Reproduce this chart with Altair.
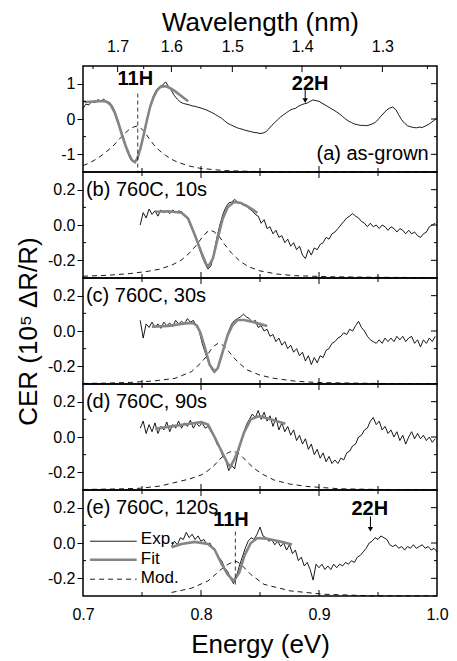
import altair as alt
import numpy as np
import pandas as pd

FONT = "Liberation Sans"
W, H = 354, 106
E_RANGE = [0.7, 1.0]
HC = 1.23984  # eV * um, converts wavelength ticks to energy positions

# ---------------- axis tick values ----------------
wl_major = [1.7, 1.6, 1.5, 1.4, 1.3]
wl_minor = [1.75, 1.65, 1.55, 1.45, 1.35, 1.25]
e_major_ticks = [0.8, 0.9]
e_minor_ticks = [0.75, 0.85, 0.95]
e_labels = [0.7, 0.8, 0.9, 1.0]

# ---------------- (a) as-grown ----------------
a_exp_start, a_exp_step = 0.700, 0.0025
a_exp = [0.30, 0.42, 0.40, 0.50, 0.46, 0.55, 0.50, 0.56, 0.49, 0.47,
         0.36, 0.18, -0.08, -0.35, -0.60, -0.92, -1.12, -1.22, -1.17, -0.98,
         -0.68, -0.30, 0.08, 0.42, 0.68, 0.84, 0.92, 0.96, 1.05, 0.92,
         0.80, 0.66, 0.56, 0.48, 0.44, 0.42, 0.40, 0.37, 0.36, 0.33,
         0.31, 0.28, 0.25, 0.21, 0.17, 0.12, 0.07, 0.02, -0.05, -0.12,
         -0.16, -0.20, -0.24, -0.27, -0.29, -0.32, -0.34, -0.36, -0.38, -0.39,
         -0.41, -0.40, -0.36, -0.28, -0.18, -0.10, -0.02, 0.06, 0.12, 0.18,
         0.24, 0.28, 0.30, 0.36, 0.40, 0.43, 0.45, 0.50, 0.54, 0.52,
         0.50, 0.45, 0.40, 0.35, 0.30, 0.25, 0.20, 0.14, 0.07, 0.00,
         -0.06, -0.10, -0.14, -0.16, -0.18, -0.18, -0.19, -0.17, -0.14, -0.10,
         -0.02, 0.08, 0.17, 0.26, 0.31, 0.34, 0.27, 0.12, -0.02, -0.12,
         -0.19, -0.22, -0.24, -0.25, -0.23, -0.24, -0.20, -0.16, -0.10, -0.04,
         0.03]
a_fit_e = [0.7011, 0.7060, 0.7110, 0.7160, 0.7200, 0.7235, 0.7270, 0.7300, 0.7330,
           0.7360, 0.7390, 0.7416, 0.7440, 0.7460, 0.7486, 0.7514, 0.7542, 0.7570,
           0.7598, 0.7626, 0.7654, 0.7682, 0.7710, 0.7751, 0.7790, 0.7830, 0.7891]
a_fit = [0.48, 0.49, 0.50, 0.51, 0.49, 0.40, 0.17, -0.12, -0.45,
         -0.75, -1.00, -1.17, -1.22, -1.12, -0.84, -0.45, -0.03, 0.36,
         0.62, 0.80, 0.90, 0.93, 0.92, 0.85, 0.76, 0.66, 0.50]
a_mod_e = [0.700, 0.705, 0.710, 0.715, 0.720, 0.725, 0.730, 0.735, 0.740, 0.7435,
           0.746, 0.749, 0.752, 0.756, 0.760, 0.765, 0.770, 0.775, 0.780, 0.790,
           0.800, 0.820, 0.850, 0.900, 1.000]
a_mod = [-1.32, -1.25, -1.16, -1.05, -0.92, -0.78, -0.60, -0.42, -0.27, -0.22,
         -0.20, -0.26, -0.36, -0.55, -0.73, -0.90, -1.03, -1.14, -1.22, -1.33,
         -1.40, -1.46, -1.49, -1.50, -1.50]

# ---------------- (b) 760C, 10s ----------------
b_exp_start, b_exp_step = 0.7485, 0.0025
b_exp = [0.00, 0.07, 0.04, 0.09, 0.06, 0.08, 0.05, 0.085, 0.07, 0.08,
         0.065, 0.085, 0.07, 0.08, 0.075, 0.06, 0.04, 0.00, -0.04, -0.08,
         -0.13, -0.18, -0.22, -0.25, -0.23, -0.16, -0.07, 0.00, 0.06, 0.10,
         0.125, 0.13, 0.145, 0.13, 0.125, 0.11, 0.115, 0.09, 0.08, 0.06,
         0.05, 0.01, 0.03, -0.02, -0.01, -0.05, -0.03, -0.07, -0.06, -0.10,
         -0.08, -0.12, -0.10, -0.14, -0.12, -0.17, -0.19, -0.14, -0.17, -0.13,
         -0.14, -0.11, -0.10, -0.07, -0.08, -0.05, -0.04, -0.02, 0.00, 0.02,
         0.04, 0.05, 0.065, 0.05, 0.04, 0.02, 0.01, -0.01, 0.01, -0.01,
         0.00, -0.02, 0.00, -0.01, -0.03, -0.01, -0.02, -0.04, -0.02, -0.03,
         -0.05, -0.03, -0.05, -0.04, -0.06, -0.07, -0.05, -0.04, -0.01, 0.00,
         0.01]
b_fit_e = [0.7612, 0.7723, 0.7835, 0.7891, 0.7947, 0.8003, 0.8045, 0.8064,
           0.8101, 0.8142, 0.8184, 0.8226, 0.8282, 0.8338, 0.8408, 0.8478]
b_fit = [0.075, 0.078, 0.069, 0.036, -0.055, -0.155, -0.224, -0.233,
         -0.19, -0.073, 0.036, 0.10, 0.131, 0.125, 0.10, 0.069]
b_mod_e = [0.700, 0.720, 0.740, 0.755, 0.765, 0.775, 0.783, 0.790, 0.796, 0.801,
           0.805, 0.808, 0.811, 0.815, 0.820, 0.826, 0.833, 0.840, 0.850, 0.865,
           0.880, 0.910, 0.950, 1.000]
b_mod = [-0.290, -0.285, -0.275, -0.262, -0.250, -0.228, -0.200, -0.160, -0.115, -0.070,
         -0.040, -0.030, -0.038, -0.060, -0.110, -0.160, -0.205, -0.235, -0.260, -0.278,
         -0.287, -0.293, -0.296, -0.298]

# ---------------- (c) 760C, 30s ----------------
c_exp_start, c_exp_step = 0.7485, 0.0025
c_exp = [0.06, -0.04, 0.04, 0.02, 0.05, 0.02, 0.04, 0.015, 0.05, 0.03,
         0.045, 0.025, 0.06, 0.04, 0.055, 0.04, 0.07, 0.05, 0.06, 0.03,
         0.00, -0.07, -0.12, -0.17, -0.21, -0.235, -0.22, -0.18, -0.12, -0.06,
         0.00, 0.04, 0.06, 0.07, 0.08, 0.095, 0.08, 0.07, 0.05, 0.06,
         0.02, 0.03, 0.00, 0.01, -0.03, -0.02, -0.06, -0.04, -0.08, -0.06,
         -0.10, -0.08, -0.12, -0.10, -0.14, -0.12, -0.17, -0.14, -0.19, -0.15,
         -0.18, -0.14, -0.15, -0.11, -0.10, -0.07, -0.06, -0.04, -0.03, -0.01,
         -0.02, 0.01, 0.00, 0.03, 0.055, 0.02, 0.00, -0.03, -0.05, -0.06,
         -0.07, -0.05, -0.07, -0.04, -0.06, -0.04, -0.06, -0.03, -0.05, -0.03,
         -0.06, -0.04, -0.03, -0.07, -0.05, -0.09, -0.05, -0.07, -0.04, -0.06,
         -0.03]
c_fit_e = [0.7584, 0.7723, 0.7863, 0.7933, 0.7965, 0.7995, 0.8031, 0.8073,
           0.8115, 0.8142, 0.8184, 0.8226, 0.8268, 0.8310, 0.8366, 0.8450, 0.8561]
c_fit = [0.025, 0.028, 0.043, 0.045, 0.030, -0.010, -0.090, -0.19,
         -0.23, -0.21, -0.117, -0.023, 0.034, 0.062, 0.062, 0.049, 0.028]
c_mod_e = [0.700, 0.720, 0.740, 0.760, 0.778, 0.792, 0.800, 0.805, 0.809, 0.812,
           0.8145, 0.817, 0.820, 0.824, 0.827, 0.832, 0.839, 0.850, 0.862, 0.880,
           0.900, 0.950, 1.000]
c_mod = [-0.297, -0.295, -0.291, -0.283, -0.268, -0.230, -0.180, -0.140, -0.100, -0.080,
         -0.070, -0.073, -0.090, -0.120, -0.145, -0.180, -0.220, -0.250, -0.268, -0.284,
         -0.292, -0.297, -0.298]

# ---------------- (d) 760C, 90s ----------------
d_exp_start, d_exp_step = 0.7485, 0.0025
d_exp = [0.05, 0.09, 0.02, 0.07, 0.03, 0.08, 0.02, 0.06, 0.04, 0.085,
         0.03, 0.07, 0.05, 0.09, 0.05, 0.08, 0.06, 0.095, 0.05, 0.08,
         0.06, 0.08, 0.05, 0.06, 0.03, 0.01, -0.04, -0.06, -0.11, -0.13,
         -0.19, -0.16, -0.18, -0.10, -0.04, 0.02, 0.07, 0.10, 0.13, 0.11,
         0.15, 0.10, 0.14, 0.09, 0.12, 0.06, 0.11, 0.04, 0.08, 0.03,
         0.06, 0.01, 0.04, -0.02, 0.01, -0.04, -0.01, -0.07, -0.04, -0.10,
         -0.07, -0.12, -0.09, -0.14, -0.11, -0.15, -0.13, -0.15, -0.12, -0.13,
         -0.09, -0.08, -0.05, -0.04, 0.00, 0.01, 0.04, 0.05, 0.09, 0.11,
         0.07, 0.09, 0.04, 0.06, 0.02, 0.04, 0.00, 0.03, -0.02, 0.01,
         -0.04, 0.00, 0.03, -0.01, 0.02, -0.01, 0.01, -0.02, 0.00, -0.03,
         -0.01]
d_fit_e = [0.7612, 0.7750, 0.7900, 0.8003, 0.8060, 0.8115, 0.8170, 0.8226,
           0.8250, 0.8280, 0.8310, 0.8366, 0.8422, 0.8492, 0.8589, 0.8715]
d_fit = [0.047, 0.060, 0.075, 0.084, 0.070, 0.0, -0.075, -0.15,
         -0.168, -0.13, -0.084, 0.028, 0.10, 0.118, 0.10, 0.075]
d_mod_e = [0.700, 0.730, 0.7486, 0.765, 0.7765, 0.790, 0.8003, 0.806, 0.8115, 0.816,
           0.8198, 0.8235, 0.8268, 0.830, 0.8338, 0.839, 0.845, 0.852, 0.8617, 0.875,
           0.8897, 0.9176, 0.950, 1.000]
d_mod = [-0.297, -0.294, -0.290, -0.278, -0.260, -0.238, -0.215, -0.190, -0.159, -0.125,
         -0.103, -0.087, -0.080, -0.087, -0.103, -0.140, -0.178, -0.210, -0.243, -0.266,
         -0.280, -0.293, -0.297, -0.298]

# ---------------- (e) 760C, 120s ----------------
e_exp_start, e_exp_step = 0.775, 0.0025
e_exp = [-0.02, 0.01, -0.01, 0.03, 0.02, 0.06, 0.03, 0.05, 0.02, 0.04,
         0.01, 0.02, -0.01, 0.00, -0.03, -0.05, -0.08, -0.10, -0.14, -0.16,
         -0.20, -0.23, -0.19, -0.13, -0.08, -0.03, 0.01, 0.03, 0.02, 0.05,
         0.09, 0.04, 0.03, 0.01, 0.02, -0.01, 0.01, -0.02, 0.00, -0.04,
         -0.01, -0.06, -0.04, -0.10, -0.08, -0.13, -0.11, -0.15, -0.21, -0.12,
         -0.14, -0.12, -0.15, -0.13, -0.15, -0.12, -0.14, -0.12, -0.13, -0.11,
         -0.12, -0.10, -0.11, -0.08, -0.07, -0.05, -0.03, 0.00, 0.01, 0.03,
         0.02, 0.04, 0.03, 0.02, -0.01, -0.02, -0.01, -0.03, -0.02, -0.04,
         -0.02, -0.03, -0.01, -0.03, -0.02, -0.01, -0.03, -0.02, -0.04, -0.03,
         -0.05]
e_fit_e = [0.7751, 0.7835, 0.7947, 0.8059, 0.8115, 0.8170, 0.8226, 0.8277,
           0.8324, 0.8366, 0.8422, 0.8478, 0.8561, 0.8673, 0.8771]
e_fit = [-0.024, -0.006, 0.006, -0.006, -0.037, -0.112, -0.178, -0.215,
         -0.168, -0.075, 0.0, 0.028, 0.024, 0.009, -0.009]
e_mod_e = [0.7751, 0.7919, 0.8059, 0.8170, 0.8210, 0.8254, 0.8288, 0.8310, 0.8338,
           0.8422, 0.8534, 0.8757, 0.9036, 0.9455, 1.0]
e_mod = [-0.280, -0.256, -0.215, -0.150, -0.128, -0.112, -0.103, -0.108, -0.121,
         -0.178, -0.234, -0.271, -0.290, -0.299, -0.299]

# ---------------- annotations ----------------
panel_labels = ["(a) as-grown", "(b) 760C, 10s", "(c) 760C, 30s", "(d) 760C, 90s", "(e) 760C, 120s"]
ytitle = "CER (10\u2075 \u0394R/R)"


def X(axis):
    return alt.X("E:Q", scale=alt.Scale(domain=E_RANGE, nice=False, zero=False), axis=axis)


def Y(dom, axis):
    return alt.Y("v:Q", scale=alt.Scale(domain=dom, nice=False, zero=False), axis=axis)


def yaxis(vals, fmt, title):
    expr = "(datum.value < -1e-9 ? '-' : '') + format(abs(datum.value), '%s')" % fmt
    kw = dict(values=vals, labelExpr=expr, tickSize=6, tickColor="black", tickWidth=1,
              domain=False, grid=False, labelFont=FONT, labelFontSize=16,
              labelColor="black", labelPadding=2)
    if title:
        kw.update(title=title, titleFont=FONT, titleFontSize=26, titleFontWeight="normal",
                  titleColor="black", titlePadding=6)
    else:
        kw["title"] = None
    return alt.Axis(**kw)


def line_layer(E, v, xe, ye, **kw):
    return alt.Chart(pd.DataFrame({"E": E, "v": v})).mark_line(**kw).encode(x=xe, y=ye)


def vrules(vals, y0, y1, xe):
    return alt.Chart(pd.DataFrame({"E": vals})).mark_rule(color="black", strokeWidth=1).encode(
        x=xe, y=alt.value(y0), y2=alt.value(y1))


def hrules(vals, x0, x1, ye):
    return alt.Chart(pd.DataFrame({"v": vals})).mark_rule(color="black", strokeWidth=1).encode(
        y=ye, x=alt.value(x0), x2=alt.value(x1))


def texts(df, xe, ye, **kw):
    return alt.Chart(df).mark_text(font=FONT, color="black", **kw).encode(x=xe, y=ye, text="t:N")


def panel(exp_start, exp_step, exp, fit_e, fit, mod_e, mod, ydom, ymaj, ymin, fmt,
          xaxis, title, label, label_pos, label_align, top="energy", extras=()):
    xe = X(xaxis)
    ye = Y(ydom, yaxis(ymaj, fmt, title))
    exp_e = exp_start + exp_step * np.arange(len(exp))
    layers = [
        line_layer(mod_e, mod, xe, ye, color="black", strokeWidth=0.9, strokeDash=[5, 4]),
        line_layer(exp_e, exp, xe, ye, color="black", strokeWidth=0.9),
        line_layer(fit_e, fit, xe, ye, color="#858585", strokeWidth=2.6),
        # x ticks, inward
        vrules(e_major_ticks, H - 6, H, xe),
        vrules(e_minor_ticks, H - 4, H, xe),
        # y ticks
        hrules(ymin, 0, 3, ye),
        hrules(ymaj, W - 6, W, ye),
        hrules(ymin, W - 3, W, ye),
    ]
    if top == "energy":
        layers += [vrules(e_major_ticks, 0, 6, xe), vrules(e_minor_ticks, 0, 4, xe)]
    else:
        layers += [vrules([HC / w for w in wl_major], 0, 6, xe),
                   vrules([HC / w for w in wl_minor], 0, 3, xe)]
    layers.append(texts(pd.DataFrame({"E": [label_pos[0]], "v": [label_pos[1]], "t": [label]}),
                        xe, ye, fontSize=20, align=label_align, baseline="middle"))
    for f in extras:
        layers += f(xe, ye)
    return alt.layer(*layers).properties(width=W, height=H)


def marker(Epos, v_top, v_bot, lab_e, lab_v, arrow_e, arrow_v, arrow_head, h_lab_e, h_lab_v):
    def f(xe, ye):
        out = []
        out.append(alt.Chart(pd.DataFrame({"E": [Epos], "v": [v_top], "v2": [v_bot]}))
                   .mark_rule(color="black", strokeWidth=0.8, strokeDash=[4, 3])
                   .encode(x=xe, y=ye, y2="v2:Q"))
        out.append(texts(pd.DataFrame({"E": [lab_e, h_lab_e], "v": [lab_v, h_lab_v], "t": ["11H", "22H"]}),
                         xe, ye, fontSize=20, fontWeight="bold", align="center", baseline="middle"))
        out.append(alt.Chart(pd.DataFrame({"E": [arrow_e], "v": [arrow_v[0]], "v2": [arrow_v[1]]}))
                   .mark_rule(color="black", strokeWidth=1).encode(x=xe, y=ye, y2="v2:Q"))
        out.append(alt.Chart(pd.DataFrame({"E": [arrow_e], "v": [arrow_head]}))
                   .mark_point(shape="triangle-down", filled=True, color="black", opacity=1, size=28)
                   .encode(x=xe, y=ye))
        return out
    return f


def legend(xe, ye):
    leg_e = [0.7060, 0.7455]
    out = [
        line_layer(leg_e, [0.01, 0.01], xe, ye, color="black", strokeWidth=0.9),
        line_layer(leg_e, [-0.095, -0.095], xe, ye, color="#858585", strokeWidth=2.6),
        line_layer(leg_e, [-0.205, -0.205], xe, ye, color="black", strokeWidth=0.9, strokeDash=[5, 4]),
        texts(pd.DataFrame({"E": [0.749] * 3, "v": [0.02, -0.09, -0.20], "t": ["Exp.", "Fit", "Mod."]}),
              xe, ye, fontSize=17, align="left", baseline="middle"),
    ]
    return out


top_axis = alt.Axis(orient="top", values=[HC / w for w in wl_major],
                    labelExpr="format(%f / datum.value, '.1f')" % HC,
                    ticks=False, tickSize=0, domain=False, grid=False, labelFlush=False,
                    labelFont=FONT, labelFontSize=16, labelColor="black", labelPadding=12,
                    title="Wavelength (nm)", titleFont=FONT, titleFontSize=26,
                    titleFontWeight="normal", titleColor="black", titlePadding=3)
bottom_axis = alt.Axis(orient="bottom", values=e_labels, format=".1f",
                       ticks=False, tickSize=0, domain=False, grid=False, labelFlush=False,
                       labelFont=FONT, labelFontSize=16, labelColor="black", labelPadding=10,
                       title="Energy (eV)", titleFont=FONT, titleFontSize=26,
                       titleFontWeight="normal", titleColor="black", titlePadding=9)

pa = panel(a_exp_start, a_exp_step, a_exp, a_fit_e, a_fit, a_mod_e, a_mod,
           [-1.5, 1.5], [-1, 0, 1], [-0.5, 0.5], "d", top_axis, None,
           panel_labels[0], (0.993, -1.0), "right", top="wavelength",
           extras=[marker(0.7464, 0.72, -1.5, 0.7444, 1.14, 0.8883, (0.82, 0.56), 0.52, 0.8925, 0.98)])
pb = panel(b_exp_start, b_exp_step, b_exp, b_fit_e, b_fit, b_mod_e, b_mod,
           [-0.3, 0.3], [-0.2, 0.0, 0.2], [-0.1, 0.1], ".1f", None, None,
           panel_labels[1], (0.7025, 0.2), "left")
pc = panel(c_exp_start, c_exp_step, c_exp, c_fit_e, c_fit, c_mod_e, c_mod,
           [-0.3, 0.3], [-0.2, 0.0, 0.2], [-0.1, 0.1], ".1f", None, ytitle,
           panel_labels[2], (0.7025, 0.2), "left")
pd_ = panel(d_exp_start, d_exp_step, d_exp, d_fit_e, d_fit, d_mod_e, d_mod,
            [-0.3, 0.3], [-0.2, 0.0, 0.2], [-0.1, 0.1], ".1f", None, None,
            panel_labels[3], (0.7025, 0.2), "left")
pe = panel(e_exp_start, e_exp_step, e_exp, e_fit_e, e_fit, e_mod_e, e_mod,
           [-0.3, 0.3], [-0.2, 0.0, 0.2], [-0.1, 0.1], ".1f", bottom_axis, None,
           panel_labels[4], (0.7025, 0.2), "left",
           extras=[marker(0.8291, 0.065, -0.25, 0.8254, 0.131, 0.9436, (0.15, 0.09), 0.078, 0.943, 0.193),
                   legend])

chart = (alt.vconcat(pa, pb, pc, pd_, pe, spacing=0, bounds="flush")
         .properties(padding={"left": 6, "top": 0, "right": 0, "bottom": 0})
         .configure(background="white")
         .configure_view(stroke="black", strokeWidth=1.5))

chart.save("out.html", embed_options={"renderer": "svg", "actions": False})
